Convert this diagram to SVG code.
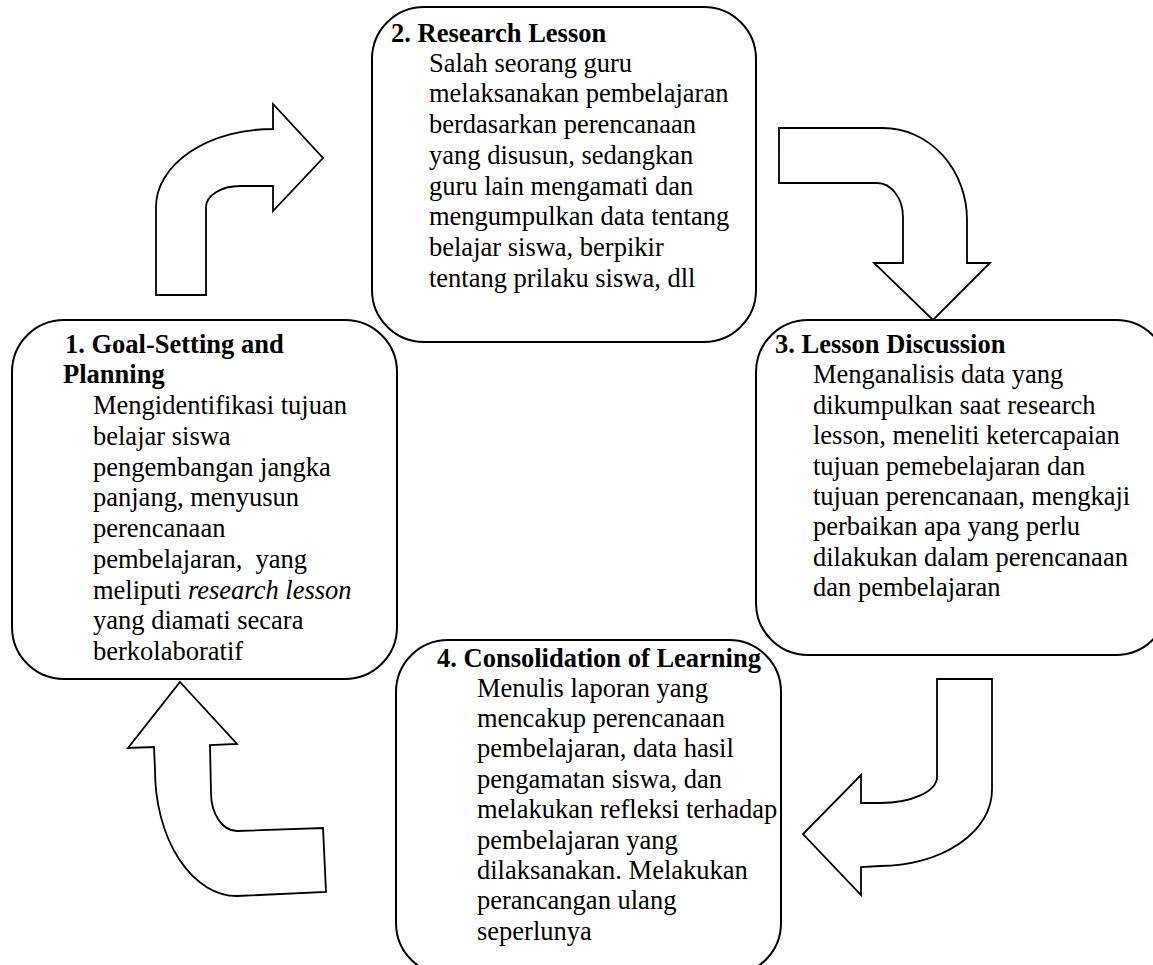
<svg xmlns="http://www.w3.org/2000/svg" width="1153" height="965" viewBox="0 0 1153 965">
<style>
.box{fill:#fff;stroke:#000;stroke-width:2}
.arr{fill:#fff;stroke:#000;stroke-width:1.8;stroke-linejoin:miter}
text{font-family:"Liberation Serif","Times New Roman",serif;font-size:26.5px;fill:#000}
.t{font-weight:bold}
</style>
<rect width="1153" height="965" fill="#fff"/>
<g id="connectors">
<path class="arr" d="M156,295 L156,207 A117,78 0 0 1 273,129 L273,104 L323,158 L273,211 L273,186 L240,186 A34,21 0 0 0 206,207 L206,295 Z"/>
<path class="arr" d="M779,128 L883,128 A84,92 0 0 1 967,220 L967,263 L990,263 L933,320 L874,263 L903,263 L903,217 A26,34 0 0 0 877,183 L779,183 Z"/>
<path class="arr" d="M937,679 L992,679 L992,790 A112,76 0 0 1 880,866 L861,867 L861,895 L803,834 L861,775 L861,803 L880,803 A57,26 0 0 0 937,777 Z"/>
<path class="arr" d="M180,682 L237,744 L210,745 L211,793 A26,38 0 0 0 237,831 L323,828 L326,892 L237,896 A82,126 0 0 1 155,770 L154,747 L128,748 Z"/>
</g>
<g id="node1">
<rect class="box" x="12" y="320" width="385" height="359" rx="52" ry="52"/>
<text><tspan class="t" x="65" y="353.3">1. Goal-Setting and</tspan><tspan class="t" x="63" y="383.3">Planning</tspan><tspan x="93" y="414">Mengidentifikasi tujuan</tspan><tspan x="93" y="444.75">belajar siswa</tspan><tspan x="93" y="475.5">pengembangan jangka</tspan><tspan x="93" y="506.25">panjang, menyusun</tspan><tspan x="93" y="537">perencanaan</tspan><tspan x="93" y="567.75" style="white-space:pre">pembelajaran,  yang</tspan><tspan x="93" y="598.5">meliputi <tspan font-style="italic">research lesson</tspan></tspan><tspan x="93" y="629.25">yang diamati secara</tspan><tspan x="93" y="660">berkolaboratif</tspan></text>
</g>
<g id="node2">
<rect class="box" x="372" y="7" width="384" height="335" rx="52" ry="52"/>
<text><tspan class="t" x="391" y="41.7">2. Research Lesson</tspan><tspan x="429" y="71.7">Salah seorang guru</tspan><tspan x="429" y="102.4">melaksanakan pembelajaran</tspan><tspan x="429" y="133.1">berdasarkan perencanaan</tspan><tspan x="429" y="163.8">yang disusun, sedangkan</tspan><tspan x="429" y="194.5">guru lain mengamati dan</tspan><tspan x="429" y="225.2">mengumpulkan data tentang</tspan><tspan x="429" y="255.9">belajar siswa, berpikir</tspan><tspan x="429" y="286.6">tentang prilaku siswa, dll</tspan></text>
</g>
<g id="node3">
<rect class="box" x="756" y="320" width="412" height="335" rx="52" ry="52"/>
<text><tspan class="t" x="775" y="353.3">3. Lesson Discussion</tspan><tspan x="813" y="383.3">Menganalisis data yang</tspan><tspan x="813" y="413.7">dikumpulkan saat research</tspan><tspan x="813" y="444.1">lesson, meneliti ketercapaian</tspan><tspan x="813" y="474.5">tujuan pemebelajaran dan</tspan><tspan x="813" y="504.9">tujuan perencanaan, mengkaji</tspan><tspan x="813" y="535.3">perbaikan apa yang perlu</tspan><tspan x="813" y="565.7">dilakukan dalam perencanaan</tspan><tspan x="813" y="596.1">dan pembelajaran</tspan></text>
</g>
<g id="node4">
<rect class="box" x="396" y="640" width="385" height="335" rx="52" ry="52"/>
<text><tspan class="t" x="437" y="667">4. Consolidation of Learning</tspan><tspan x="477" y="696.5">Menulis laporan yang</tspan><tspan x="477" y="726.9">mencakup perencanaan</tspan><tspan x="477" y="757.3">pembelajaran, data hasil</tspan><tspan x="477" y="787.7">pengamatan siswa, dan</tspan><tspan x="477" y="818.1">melakukan refleksi terhadap</tspan><tspan x="477" y="848.5">pembelajaran yang</tspan><tspan x="477" y="878.9">dilaksanakan. Melakukan</tspan><tspan x="477" y="909.3">perancangan ulang</tspan><tspan x="477" y="939.7">seperlunya</tspan></text>
</g>
</svg>
